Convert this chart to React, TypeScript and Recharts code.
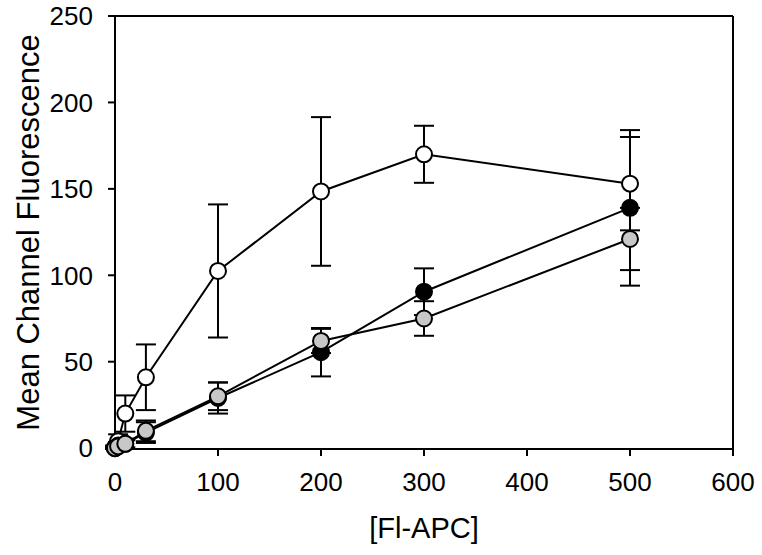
import { LineChart, Line, XAxis, YAxis, ErrorBar, ReferenceLine } from "recharts";

// [Fl-APC] concentrations
const concentrations = [0, 3, 10, 30, 100, 200, 300, 500];

// mean channel fluorescence, one array per series
const openValues = [0.5, 4, 20, 41, 102.5, 148.5, 170, 153];
const openErrors = [1, 4, 10.5, 19, 38.5, 43, 16.5, 27];

const blackValues = [0, 1.5, 2.5, 9, 29, 55.5, 90.5, 139];
const blackErrors = [0.5, 2, 3, 6, 9, 14, 13.5, 45];

const grayValues = [0, 1, 2.5, 10, 30, 62, 75, 121];
const grayErrors = [0.5, 1.5, 2, 6, 8, 7, 10, 18];

const xTicks = [0, 100, 200, 300, 400, 500, 600];
const yTicks = [0, 50, 100, 150, 200, 250];

function toRows(values: number[], errors: number[]) {
  return concentrations.map((x, i) => ({ x, y: values[i], err: errors[i] }));
}

const openData = toRows(openValues, openErrors);
const blackData = toRows(blackValues, blackErrors);
const grayData = toRows(grayValues, grayErrors);

const FONT = "'Liberation Sans', Arial, sans-serif";
const tickStyle = { fill: "#000", fontSize: 26, fontFamily: FONT };

function series(key: string, data: typeof openData, fill: string) {
  return (
    <Line
      key={key}
      data={data}
      dataKey="y"
      stroke="#000"
      strokeWidth={2}
      dot={{ r: 8, fill, stroke: "#000", strokeWidth: 2 }}
      activeDot={false}
      isAnimationActive={false}
    >
      <ErrorBar dataKey="err" direction="y" width={10} stroke="#000" strokeWidth={2} />
    </Line>
  );
}

export default function App() {
  return (
    <div style={{ position: "absolute", left: 0, top: 0, background: "#fff" }}>
      <LineChart width={762} height={555} margin={{ top: 16, right: 29, bottom: 0, left: 0 }}>
        <XAxis
          dataKey="x"
          type="number"
          domain={[0, 600]}
          ticks={xTicks}
          allowDuplicatedCategory={false}
          height={106}
          tick={tickStyle}
          tickSize={7}
          tickMargin={17}
          stroke="#000"
          strokeWidth={2}
          label={{
            value: "[Fl-APC]",
            position: "insideBottom",
            offset: 17,
            fontSize: 29,
            fontFamily: FONT,
            fill: "#000",
          }}
        />
        <YAxis
          type="number"
          domain={[0, 250]}
          ticks={yTicks}
          width={115}
          tick={tickStyle}
          tickSize={7}
          tickMargin={15}
          stroke="#000"
          strokeWidth={2}
          label={{
            value: "Mean Channel Fluorescence",
            angle: -90,
            position: "insideLeft",
            offset: 28,
            fontSize: 31,
            fontFamily: FONT,
            fill: "#000",
            style: { textAnchor: "middle" },
          }}
        />
        <ReferenceLine y={250} stroke="#000" strokeWidth={2} />
        <ReferenceLine x={600} stroke="#000" strokeWidth={2} />
        {series("open", openData, "#ffffff")}
        {series("black", blackData, "#000000")}
        {series("gray", grayData, "#c8c8c8")}
      </LineChart>
    </div>
  );
}
